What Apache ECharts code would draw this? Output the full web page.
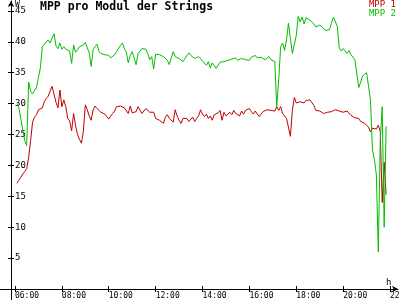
<!DOCTYPE html>
<html><head><meta charset="utf-8">
<script src="https://cdn.jsdelivr.net/npm/echarts@6/dist/echarts.min.js"></script>
<style>html,body{margin:0;padding:0;background:#fff}#c{width:400px;height:300px}</style>
</head><body><div id="c"></div>
<script>
const chartTitle = 'MPP pro Modul der Strings';
const seriesNames = ['MPP 1', 'MPP 2'];
const seriesColors = ['#c00000', '#00c000'];
const startHour = 6 + 5 / 60;   // first sample 06:05
const stepHour = 5 / 60;        // 5-minute samples
const xTickHours = [6, 8, 10, 12, 14, 16, 18, 20, 22];
const yTickValues = [5, 10, 15, 20, 25, 30, 35, 40, 45];
const yUnit = 'W';
const xUnit = 'h';

const mpp1 = [
17.1,17.6,18.1,18.6,19.0,19.5,21.3,24.0,27.0,27.8,
28.2,29.0,29.0,29.3,30.3,30.8,31.2,31.5,32.8,32.7,
30.2,29.3,32.2,29.5,30.6,29.5,27.6,27.2,25.6,28.4,
26.5,25.0,24.2,23.6,25.5,29.8,29.0,28.0,27.3,29.0,
29.6,29.2,29.4,28.6,28.8,28.3,27.9,27.5,28.0,28.4,
28.8,29.5,29.2,29.6,29.5,29.3,29.0,28.4,29.6,28.5,
28.4,28.7,29.5,29.2,28.4,28.8,29.2,29.4,28.6,28.4,
28.6,27.6,27.5,27.3,27.6,26.8,27.8,28.2,27.6,27.3,
27.0,29.0,28.0,27.3,26.8,27.6,27.4,27.6,27.1,27.3,
27.8,27.1,27.6,28.0,29.0,28.3,27.9,28.3,27.6,28.0,
27.3,28.2,27.9,28.5,28.9,27.3,28.6,28.0,28.3,28.6,
28.2,28.9,28.4,28.5,28.0,28.8,28.3,28.9,28.6,29.2,
28.7,28.3,28.8,28.5,27.9,28.0,28.7,28.9,29.0,28.8,
28.9,29.1,28.8,29.5,28.9,29.5,28.4,28.7,27.6,27.8,
24.7,28.9,31.0,30.1,30.4,30.3,30.5,30.1,30.5,30.3,
30.6,30.3,29.7,28.9,29.2,28.8,29.0,28.4,28.7,28.6,
28.5,28.7,29.0,29.0,29.1,28.8,29.0,28.6,28.9,28.8,
28.9,28.1,28.0,27.7,27.4,27.6,27.1,27.3,26.8,27.0,
26.2,25.4,26.0,26.3,25.9,26.5,25.5,14.0,20.5,15.3
];

const mpp2 = [
30.0,29.3,27.5,25.8,24.0,23.2,33.5,32.0,31.6,31.9,
32.6,34.2,35.8,39.2,39.6,39.8,40.3,39.8,40.6,41.3,
39.3,38.9,39.8,38.8,39.2,38.8,39.0,38.5,36.5,39.5,
38.3,38.7,39.2,39.0,39.5,39.9,39.6,38.2,36.0,38.7,
39.2,39.6,38.5,38.1,38.1,37.9,38.1,37.8,37.4,37.2,
37.9,38.4,38.6,39.4,39.8,38.9,38.3,36.6,37.8,38.4,
38.4,36.3,38.1,38.4,38.9,39.2,38.8,38.1,37.1,37.6,
35.6,38.0,38.3,37.9,37.6,37.6,37.3,37.0,36.3,37.4,
38.4,37.6,37.3,37.3,37.0,36.8,37.3,37.6,38.2,37.8,
37.9,37.3,37.0,37.6,37.8,36.9,37.0,36.2,36.8,35.8,
36.6,36.3,35.7,35.9,36.7,36.9,36.8,37.0,37.0,36.7,
37.2,36.9,37.4,37.0,36.8,37.3,37.6,37.1,37.4,37.0,
37.5,37.3,37.8,37.4,37.7,37.5,37.8,37.1,37.4,37.6,
37.1,37.3,36.8,29.5,33.8,39.2,39.8,38.6,40.3,43.0,
40.5,38.1,37.9,41.0,44.1,43.2,44.0,42.9,43.9,43.7,
43.5,43.2,42.9,42.4,42.6,42.7,42.9,42.2,41.8,41.5,
42.0,43.0,44.0,44.3,42.5,39.0,38.5,38.9,38.7,38.1,
38.6,37.9,37.8,37.1,37.2,32.6,33.5,34.5,34.4,35.0,
34.9,30.6,22.5,21.0,18.5,6.0,24.0,29.5,10.0,26.3
];

const toPoints = arr => arr.map((v, i) => [startHour + i * stepHour, v]);
const pad = n => (n < 10 ? '0' : '') + n;
const mono = 'DejaVu Sans Mono';

const X_MIN = 5.83, X_MAX = 22.34, Y_MIN = 0, Y_MAX = 46.6;

const chart = echarts.init(document.getElementById('c'), null, { renderer: 'canvas' });
chart.setOption({
  backgroundColor: '#ffffff',
  animation: false,
  title: {
    text: chartTitle, left: 40, top: 1, padding: 0,
    textStyle: { fontFamily: mono, fontSize: 11.5, fontWeight: 'bold', color: '#000' }
  },
  legend: {
    orient: 'vertical', right: 4, top: 0, padding: 0,
    itemWidth: 0, itemHeight: 8, itemGap: 0, icon: 'none',
    selectedMode: false,
    textStyle: { fontFamily: mono, fontSize: 9, padding: [0, 0, 0, -5] },
    data: seriesNames.map((n, i) => ({ name: n, textStyle: { color: seriesColors[i] } }))
  },
  grid: { left: 11, right: 2, top: 1, bottom: 11, containLabel: false, outerBoundsMode: 'none' },
  xAxis: [{
    type: 'value', min: X_MIN, max: X_MAX, position: 'bottom',
    axisLine: { lineStyle: { color: '#000', width: 1 }, symbol: ['none', 'arrow'], symbolSize: [5, 6] },
    axisTick: { customValues: xTickHours, length: 3, lineStyle: { color: '#000' } },
    axisLabel: {
      customValues: xTickHours, formatter: v => pad(Math.round(v)) + ':00',
      fontFamily: mono, fontSize: 8, color: '#000', align: 'left', margin: 3,
      alignMinLabel: 'left', alignMaxLabel: 'left', hideOverlap: false
    },
    splitLine: { show: false }
  }, {
    type: 'value', min: X_MIN, max: X_MAX, position: 'bottom',
    axisLine: { show: false },
    axisTick: { customValues: xTickHours, inside: true, length: 3, lineStyle: { color: '#000' } },
    axisLabel: { show: false }, splitLine: { show: false }
  }],
  yAxis: [{
    type: 'value', min: Y_MIN, max: Y_MAX, position: 'left',
    axisLine: { show: true, lineStyle: { color: '#000', width: 1 }, symbol: ['none', 'arrow'], symbolSize: [5, 6] },
    axisTick: { show: true, customValues: yTickValues, length: 3, lineStyle: { color: '#000' } },
    axisLabel: {
      customValues: yTickValues, inside: true, margin: 4,
      fontFamily: mono, fontSize: 9, color: '#000'
    },
    splitLine: { show: false }
  }, {
    type: 'value', min: Y_MIN, max: Y_MAX, position: 'left',
    axisLine: { show: false },
    axisTick: { show: true, customValues: yTickValues, inside: true, length: 3, lineStyle: { color: '#000' } },
    axisLabel: { show: false }, splitLine: { show: false }
  }],
  graphic: [
    { type: 'text', left: 15, top: 1, style: { text: yUnit, font: '8px "DejaVu Sans Mono"', fill: '#000' } },
    { type: 'text', left: 386, top: 278, style: { text: xUnit, font: '9px "DejaVu Sans Mono"', fill: '#000' } },
    { type: 'line', shape: { x1: 0, y1: 289.5, x2: 11, y2: 289.5 }, style: { stroke: '#000', lineWidth: 1 } },
    { type: 'line', shape: { x1: 11.5, y1: 289, x2: 11.5, y2: 300 }, style: { stroke: '#000', lineWidth: 1 } }
  ],
  series: [
    { name: seriesNames[0], type: 'line', data: toPoints(mpp1), showSymbol: false,
      lineStyle: { color: seriesColors[0], width: 1 }, itemStyle: { color: seriesColors[0] } },
    { name: seriesNames[1], type: 'line', data: toPoints(mpp2), showSymbol: false,
      lineStyle: { color: seriesColors[1], width: 1 }, itemStyle: { color: seriesColors[1] } }
  ]
});
</script></body></html>
